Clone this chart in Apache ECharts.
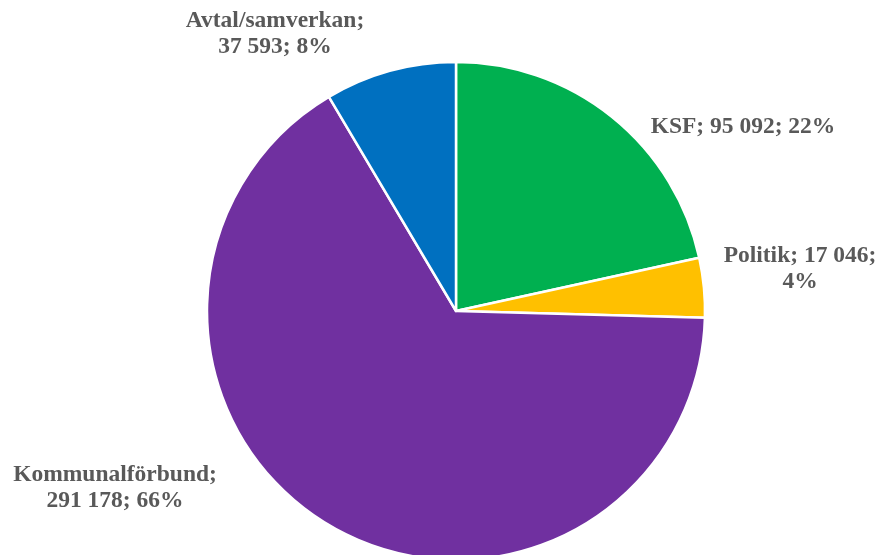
<!DOCTYPE html>
<html>
<head>
<meta charset="utf-8">
<script src="https://cdn.jsdelivr.net/npm/echarts@6/dist/echarts.min.js"></script>
<style>
html,body{margin:0;padding:0;background:#fff;}
#chart{width:879px;height:555px;}
</style>
</head>
<body>
<div id="chart"></div>
<script>
const categories = ['KSF', 'Politik', 'Kommunalförbund', 'Avtal/samverkan'];
const values = [95092, 17046, 291178, 37593];
const colors = ['#00B050', '#FFC000', '#7030A0', '#0070C0'];
// label anchor positions (px) and line breaks for each slice label
const labelPos = [[743, 127], [800, 269], [115, 488], [275, 34]];
const labelBreak = ['single', 'beforePct', 'afterName', 'afterName'];

function fmt(n) {
  return String(n).replace(/\B(?=(\d{3})+(?!\d))/g, ' ');
}

const chart = echarts.init(document.getElementById('chart'), null, {renderer: 'canvas'});
chart.setOption({
  animation: false,
  backgroundColor: '#ffffff',
  series: [{
    type: 'pie',
    center: [456, 311],
    radius: 249,
    startAngle: 90,
    clockwise: true,
    percentPrecision: 0,
    avoidLabelOverlap: false,
    data: categories.map((c, i) => ({name: c, value: values[i], itemStyle: {color: colors[i]}})),
    itemStyle: {borderColor: '#ffffff', borderWidth: 2.5},
    label: {
      show: true,
      position: 'outside',
      fontFamily: '"Liberation Serif", "Times New Roman", serif',
      fontWeight: 'bold',
      fontSize: 23.5,
      lineHeight: 26,
      color: '#595959',
      align: 'center',
      formatter: function (p) {
        const b = labelBreak[p.dataIndex];
        const n = p.name, v = fmt(p.value), d = p.percent + '%';
        if (b === 'single') return n + '; ' + v + '; ' + d;
        if (b === 'beforePct') return n + '; ' + v + ';\n' + d;
        return n + ';\n' + v + '; ' + d;
      }
    },
    labelLine: {show: false},
    labelLayout: function (params) {
      const p = labelPos[params.dataIndex];
      return {x: p[0], y: p[1], align: 'center', verticalAlign: 'middle'};
    },
    emphasis: {disabled: true}
  }]
});
</script>
</body>
</html>
